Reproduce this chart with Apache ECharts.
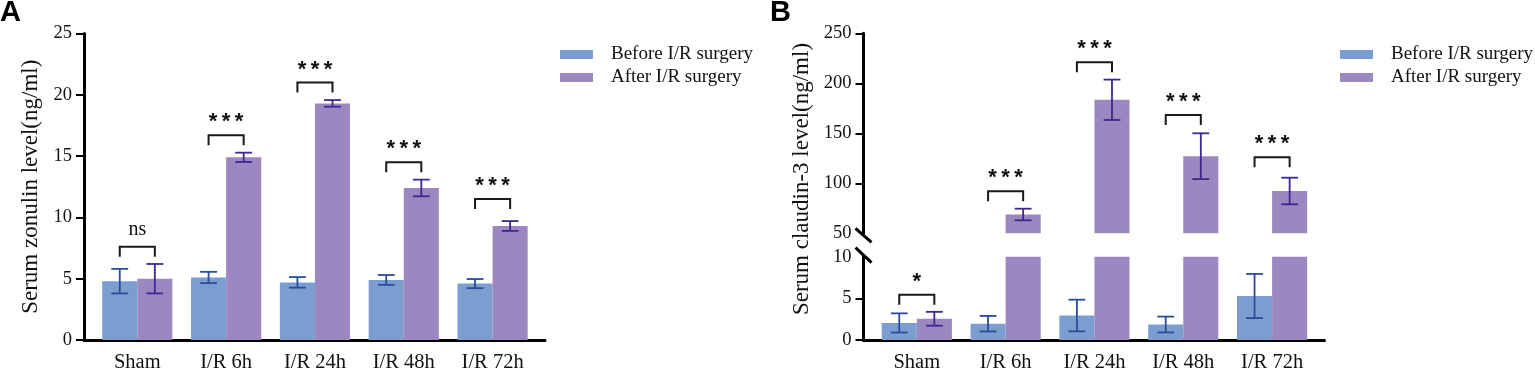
<!DOCTYPE html>
<html>
<head>
<meta charset="utf-8">
<script src="https://cdn.jsdelivr.net/npm/echarts@6/dist/echarts.min.js"></script>
<style>
html,body{margin:0;padding:0;background:#fff;}
#charts{width:1535px;height:373px;}
</style>
</head>
<body>
<div id="charts"></div>
<script>
// groups on the x axis
var categories = ['Sham', 'I/R 6h', 'I/R 24h', 'I/R 48h', 'I/R 72h'];
var seriesNames = ['Before I/R surgery', 'After I/R surgery'];

// A: serum zonulin (ng/ml), mean and error
var zonulinBefore = [4.8, 5.1, 4.7, 4.9, 4.6];
var zonulinBeforeErr = [1.0, 0.46, 0.43, 0.4, 0.37];
var zonulinAfter = [5.0, 14.9, 19.3, 12.4, 9.3];
var zonulinAfterErr = [1.2, 0.38, 0.27, 0.68, 0.4];
var zonulinSigLevel = [7.6, 16.7, 21.0, 14.5, 11.5];
var zonulinSig = ['ns', '***', '***', '***', '***'];

// B: serum claudin-3 (ng/ml), broken axis 10 -> 50
var claudinBefore = [2.05, 1.96, 2.94, 1.86, 5.28];
var claudinBeforeErr = [1.15, 0.93, 1.9, 0.95, 2.65];
var claudinAfter = [2.55, 68.8, 183.5, 127.1, 92.3];
var claudinAfterErr = [0.83, 5.8, 20.2, 22.9, 13.3];
var claudinSigLevel = [5.42, 92, 221, 168.3, 126];
var claudinSig = ['*', '***', '***', '***', '***'];

// y axis ticks
var zonulinTicks = [0, 5, 10, 15, 20, 25];
var claudinLowTicks = [0, 5];
var claudinHighTicks = [100, 150, 200, 250];

var BLUE = '#7b9dcf';
var PURPLE = '#9c87c0';
var BLUE_ERR = '#2a4c9a';
var PURPLE_ERR = '#3e2790';
var FONT = '"Liberation Serif", "Times New Roman", serif';
var X_MIN = -0.6, X_MAX = 4.59;

var charts = echarts.init(document.getElementById('charts'));

function toData(vals, errs){
	var arr = [];
	for (var i = 0; i < vals.length; i++) {
		arr.push([i, vals[i], errs[i]]);
	}
	return arr;
}

// bar + error bar, drawn between lo and hi of its own grid
function barRenderer(side, color, errColor, lo, hi){
	return function(params, api){
		var idx = api.value(0);
		var v = api.value(1);
		var e = api.value(2);
		var band = api.size([1, 0])[0];
		var w = band * 0.395;
		var cx = api.coord([idx, 0])[0] + side * w / 2;
		var top = Math.min(v, hi);
		var children = [];
		if (top > lo) {
			var y0 = api.coord([idx, lo])[1];
			var y1 = api.coord([idx, top])[1];
			children.push({
				type: 'rect',
				shape: {x: cx - w / 2, y: y1, width: w, height: y0 - y1},
				style: {fill: color}
			});
		}
		if (v >= lo && v + e <= hi) {
			var ya = api.coord([idx, v + e])[1];
			var yb = api.coord([idx, Math.max(v - e, lo)])[1];
			var cap = w * 0.24;
			var ls = {stroke: errColor, lineWidth: 1.8};
			children.push({type: 'line', shape: {x1: cx, y1: ya, x2: cx, y2: yb}, style: ls});
			children.push({type: 'line', shape: {x1: cx - cap, y1: ya, x2: cx + cap, y2: ya}, style: ls});
			children.push({type: 'line', shape: {x1: cx - cap, y1: yb, x2: cx + cap, y2: yb}, style: ls});
		}
		return {type: 'group', children: children};
	};
}

// significance bracket between the two bars of a group
function sigRenderer(labels, first){
	return function(params, api){
		var idx = api.value(0);
		var level = api.value(1);
		var band = api.size([1, 0])[0];
		var w = band * 0.395;
		var c = api.coord([idx, level]);
		var lx = c[0] - w / 2, rx = c[0] + w / 2, y = c[1];
		var txt = labels[params.dataIndex + first];
		var star = txt.indexOf('*') >= 0;
		return {type: 'group', children: [{
			type: 'polyline',
			shape: {points: [[lx, y + 10], [lx, y], [rx, y], [rx, y + 10]]},
			style: {stroke: '#1a1a1a', lineWidth: 2, fill: null}
		}, {
			type: 'text',
			x: c[0],
			y: star ? y - 13 : y - 17,
			style: {
				text: star ? txt.split('').join('\u2009') : txt,
				font: star ? 'bold 22px "Liberation Sans", Arial, sans-serif' : '20px ' + FONT,
				fill: '#111',
				align: 'center',
				verticalAlign: 'middle'
			}
		}]};
	};
}

function sigData(levels, from, to){
	var arr = [];
	for (var i = from; i < to; i++) {
		arr.push([i, levels[i]]);
	}
	return arr;
}

function xAxisOf(gridIndex, show){
	return {
		type: 'value',
		gridIndex: gridIndex,
		min: X_MIN,
		max: X_MAX,
		show: show,
		splitLine: {show: false},
		axisTick: {show: false},
		axisLine: {show: true, onZero: false, lineStyle: {color: '#000', width: 3}},
		axisLabel: {
			customValues: [0, 1, 2, 3, 4],
			formatter: function(v){ return categories[Math.round(v)]; },
			fontFamily: FONT,
			fontSize: 20.5,
			color: '#111',
			margin: 12
		}
	};
}

function yAxisOf(gridIndex, min, max, interval, tickValues){
	return {
		type: 'value',
		gridIndex: gridIndex,
		min: min,
		max: max,
		interval: interval,
		splitLine: {show: false},
		axisLine: {show: true, onZero: false, lineStyle: {color: '#000', width: 3}},
		axisTick: {show: true, length: 8, lineStyle: {color: '#000', width: 2}, customValues: tickValues},
		axisLabel: {fontFamily: FONT, fontSize: 18.5, color: '#111', margin: 12}
	};
}

var yA = yAxisOf(0, 0, 25, 5, zonulinTicks);
yA.name = 'Serum zonulin level(ng/ml)';
yA.nameLocation = 'middle';
yA.nameGap = 42;
yA.nameTextStyle = {fontFamily: FONT, fontSize: 23, color: '#111'};

var legendBase = {
	orient: 'vertical',
	icon: 'rect',
	itemWidth: 33,
	itemHeight: 9,
	itemGap: 4,
	selectedMode: false,
	data: seriesNames,
	textStyle: {fontFamily: FONT, fontSize: 19, color: '#111', padding: [0, 0, 0, 13]}
};

var option = {
	animation: false,
	legend: [
		echarts.util.merge({left: 555, top: 40}, legendBase),
		echarts.util.merge({left: 1335, top: 40}, legendBase)
	],
	grid: [
		{left: 84, top: 33.5, width: 461, height: 307.5},
		{left: 863.5, top: 33.3, width: 461, height: 200},
		{left: 863.5, top: 256.7, width: 461, height: 84.3}
	],
	xAxis: [xAxisOf(0, true), xAxisOf(1, false), xAxisOf(2, true)],
	yAxis: [
		yA,
		yAxisOf(1, 50, 250, 50, claudinHighTicks),
		yAxisOf(2, 0, 10, 5, claudinLowTicks)
	],
	series: [{
		name: seriesNames[0], type: 'custom', xAxisIndex: 0, yAxisIndex: 0,
		itemStyle: {color: BLUE},
		renderItem: barRenderer(-1, BLUE, BLUE_ERR, 0, 25),
		data: toData(zonulinBefore, zonulinBeforeErr)
	}, {
		name: seriesNames[1], type: 'custom', xAxisIndex: 0, yAxisIndex: 0,
		itemStyle: {color: PURPLE},
		renderItem: barRenderer(1, PURPLE, PURPLE_ERR, 0, 25),
		data: toData(zonulinAfter, zonulinAfterErr)
	}, {
		type: 'custom', xAxisIndex: 0, yAxisIndex: 0, silent: true,
		renderItem: sigRenderer(zonulinSig, 0),
		data: sigData(zonulinSigLevel, 0, 5)
	}, {
		name: seriesNames[0], type: 'custom', xAxisIndex: 2, yAxisIndex: 2,
		itemStyle: {color: BLUE},
		renderItem: barRenderer(-1, BLUE, BLUE_ERR, 0, 10),
		data: toData(claudinBefore, claudinBeforeErr)
	}, {
		name: seriesNames[1], type: 'custom', xAxisIndex: 2, yAxisIndex: 2,
		itemStyle: {color: PURPLE},
		renderItem: barRenderer(1, PURPLE, PURPLE_ERR, 0, 10),
		data: toData(claudinAfter, claudinAfterErr)
	}, {
		name: seriesNames[1], type: 'custom', xAxisIndex: 1, yAxisIndex: 1,
		itemStyle: {color: PURPLE},
		renderItem: barRenderer(1, PURPLE, PURPLE_ERR, 50, 250),
		data: toData(claudinAfter, claudinAfterErr)
	}, {
		// Sham bracket sits in the lower part, the rest in the upper part
		type: 'custom', xAxisIndex: 2, yAxisIndex: 2, silent: true,
		renderItem: sigRenderer(claudinSig, 0),
		data: sigData(claudinSigLevel, 0, 1)
	}, {
		type: 'custom', xAxisIndex: 1, yAxisIndex: 1, silent: true,
		renderItem: sigRenderer(claudinSig, 1),
		data: sigData(claudinSigLevel, 1, 5)
	}]
};
charts.setOption(option);

// panel letters, B axis title and the break marks
var upperBreak = charts.convertToPixel({gridIndex: 1}, [X_MIN, 50]);
var lowerBreak = charts.convertToPixel({gridIndex: 2}, [X_MIN, 10]);
var slash = {stroke: '#000', lineWidth: 3};
charts.setOption({
	graphic: [{
		type: 'text', left: 0, top: -2,
		style: {text: 'A', font: 'bold 29px "Liberation Sans", Arial, sans-serif', fill: '#000'}
	}, {
		type: 'text', left: 770, top: -2,
		style: {text: 'B', font: 'bold 29px "Liberation Sans", Arial, sans-serif', fill: '#000'}
	}, {
		type: 'text', x: 802, y: 179, rotation: Math.PI / 2,
		style: {text: 'Serum claudin-3 level(ng/ml)', font: '23px ' + FONT, fill: '#111', align: 'center', verticalAlign: 'middle'}
	}, {
		type: 'line',
		shape: {x1: upperBreak[0] - 8, y1: upperBreak[1] - 5, x2: upperBreak[0] + 8, y2: upperBreak[1] + 9},
		style: slash
	}, {
		type: 'line',
		shape: {x1: lowerBreak[0] - 8, y1: lowerBreak[1] - 9, x2: lowerBreak[0] + 8, y2: lowerBreak[1] + 6},
		style: slash
	}]
});
</script>
</body>
</html>
